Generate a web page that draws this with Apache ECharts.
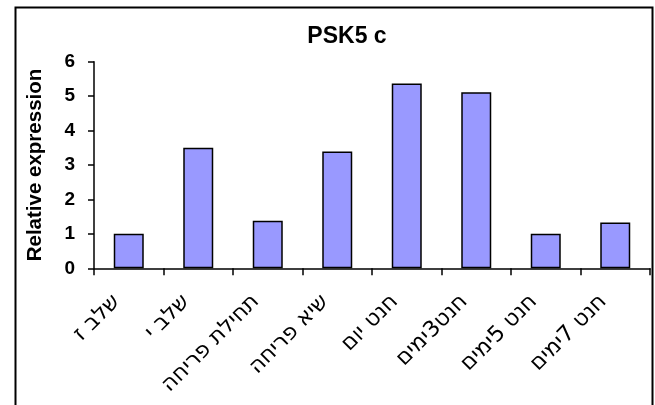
<!DOCTYPE html>
<html><head><meta charset="utf-8">
<script src="https://cdn.jsdelivr.net/npm/echarts@6/dist/echarts.min.js"></script>
<style>html,body{margin:0;padding:0;background:#fff}#c{width:655px;height:405px}</style>
</head><body><div id="c"></div>
<script>
const titleText = 'PSK5 c';
const yAxisName = 'Relative expression';
const categories = ['שלב ז','שלב י','תחילת פריחה','שיא פריחה','חנט יום','חנט3ימים','חנט 5ימים','חנט 7ימים'];
const values = [1.0, 3.5, 1.38, 3.39, 5.37, 5.11, 1.0, 1.33];
const yTicks = [0, 1, 2, 3, 4, 5, 6];

const FONT = "'Liberation Sans', Arial, 'DejaVu Sans', sans-serif";
const HFONT = "'DejaVu Sans', 'Liberation Sans', Arial, sans-serif";
const chart = echarts.init(document.getElementById('c'), null, {renderer:'canvas'});
chart.setOption({
  animation:false,
  backgroundColor:'#fff',
  title:{text:titleText,left:342,top:20,textAlign:'center',
    textStyle:{fontFamily:FONT,fontSize:23,fontWeight:'bold',color:'#000'}},
  graphic:[{type:'rect',left:13,top:5,shape:{x:0,y:0,width:637,height:500},
    style:{fill:'none',stroke:'#000',lineWidth:2},z:100,silent:true}],
  grid:{left:94,right:5,top:61.7,bottom:136.7,containLabel:false},
  xAxis:{type:'category',data:categories,boundaryGap:true,
    axisLine:{lineStyle:{color:'#000',width:1.5}},
    axisTick:{show:true,length:7,inside:false,alignWithLabel:false,lineStyle:{color:'#000',width:1.5}},
    axisLabel:{rotate:45,interval:0,margin:18,padding:[0,17,0,0],fontFamily:HFONT,fontSize:22,color:'#000'}},
  yAxis:{type:'value',min:yTicks[0],max:yTicks[yTicks.length-1],interval:1,
    name:yAxisName,nameLocation:'middle',nameRotate:90,nameGap:48,
    nameTextStyle:{fontFamily:FONT,fontSize:20.5,fontWeight:'bold',color:'#000'},
    axisLine:{show:true,lineStyle:{color:'#000',width:1.5}},
    axisTick:{show:true,length:6,lineStyle:{color:'#000',width:1.5}},
    splitLine:{show:false},
    axisLabel:{margin:19,fontFamily:FONT,fontSize:19,fontWeight:'bold',color:'#000'}},
  series:[{type:'bar',data:values,barWidth:30,
    itemStyle:{color:'#9999FF',borderColor:'#000',borderWidth:1.5}}]
});
</script></body></html>
